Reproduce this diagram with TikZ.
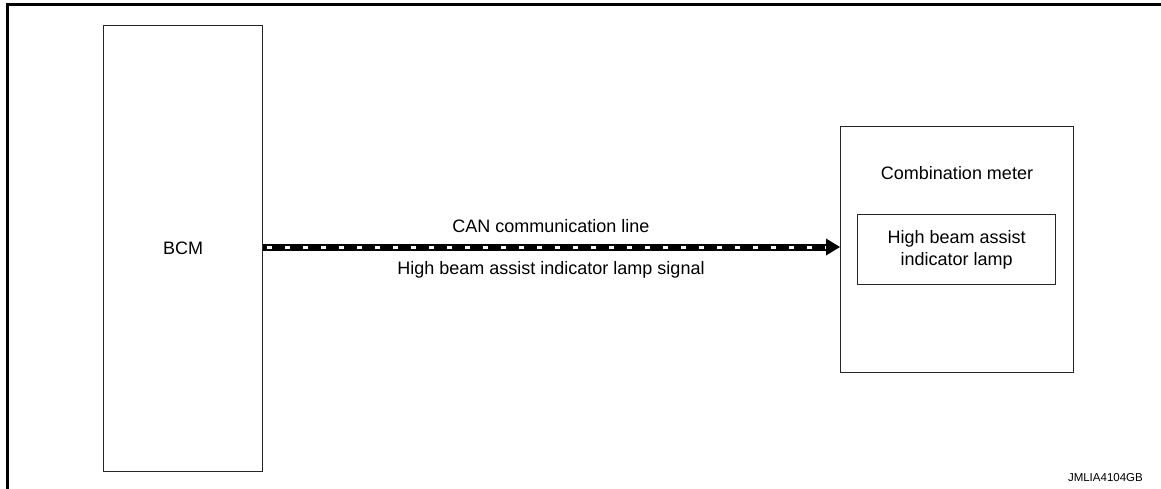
\documentclass[tikz,border=0pt]{standalone}
\usepackage{fontspec}
\setmainfont{Liberation Sans}
\usetikzlibrary{arrows.meta}
\begin{document}
\begin{tikzpicture}[x=1pt,y=-1pt,
  box/.style={draw=black!85,line width=1.4pt},
  lbl/.style={font=\fontsize{18}{22}\selectfont,inner sep=0pt,align=center},
  frameline/.style={line width=3pt,line cap=rect}]
\useasboundingbox (0,0) rectangle (1161,488);
\coordinate (ftl) at (7,4.5);
\coordinate (ftr) at (1161,4.5);
\coordinate (fbl) at (7,488);
\draw[frameline] (fbl) -- (ftl) -- (ftr);
\node[box,minimum width=159pt,minimum height=446pt,anchor=north west] (bcm) at (103,25) {};
\node[lbl] at (bcm.center) {BCM};
\node[box,minimum width=233pt,minimum height=246pt,anchor=north west] (cm) at (840,126) {};
\node[lbl] (cmt) at (957,173) {Combination meter};
\node[box,minimum width=198pt,minimum height=70pt,anchor=north west] (lamp) at (857,214) {};
\node[lbl] at (lamp.center) {High beam assist\\indicator lamp};
\coordinate (a1) at (bcm.east |- 0,247);
\coordinate (a2) at (cm.west |- 0,247);
\coordinate (a3) at (826,247);
\draw[line width=7pt] (a1) -- (a3);
\draw[white,line width=3pt,dash pattern=on 5pt off 13pt,dash phase=-4pt] (a1) -- (a3);
\fill (a2) -- (826,238.5) -- (826,255.5) -- cycle;
\node[lbl] at (551,226) {CAN communication line};
\node[lbl] at (551,270) {High beam assist indicator lamp signal};
\node[font=\fontsize{11.5}{13}\selectfont,inner sep=0pt,anchor=east] at (1143,478) {JMLIA4104GB};
\end{tikzpicture}
\end{document}
